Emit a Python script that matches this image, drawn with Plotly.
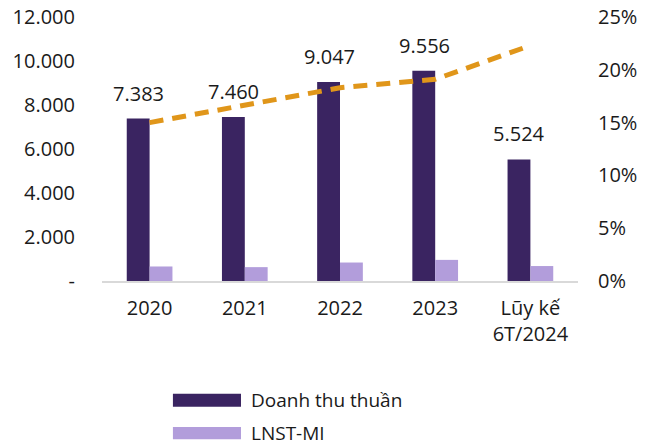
import plotly.graph_objects as go

# Data
categories = ["2020", "2021", "2022", "2023", "Lũy kế<br>6T/2024"]
doanh_thu = [7383, 7460, 9047, 9556, 5524]
lnst_mi = [660, 630, 840, 960, 680]
ty_le = [0.150, 0.166, 0.183, 0.191, 0.223]

left_ticks = [0, 2000, 4000, 6000, 8000, 10000, 12000]
left_tick_text = ["-", "2.000", "4.000", "6.000", "8.000", "10.000", "12.000"]
right_ticks = [0, 0.05, 0.10, 0.15, 0.20, 0.25]

DARK = "#3a2461"
LIGHT = "#b29ddb"
ORANGE = "#e0961a"
FONT = "Open Sans"

fig = go.Figure()

fig.add_trace(go.Bar(x=categories, y=doanh_thu, name="Doanh thu thuần",
                     marker=dict(color=DARK, line=dict(width=0))))
fig.add_trace(go.Bar(x=categories, y=lnst_mi, name="LNST-MI",
                     marker=dict(color=LIGHT, line=dict(width=0))))
fig.add_trace(go.Scatter(x=categories, y=ty_le, yaxis="y2", mode="lines",
                         line=dict(color=ORANGE, width=5, dash="14px,9px"),
                         showlegend=False, hoverinfo="skip"))

# value labels above the revenue bars
# (category index for x: numeric-looking names would be read as numbers)
for i, v in enumerate(doanh_thu):
    fig.add_annotation(x=i, y=v, text=f"{v:,.0f}".replace(",", "."),
                       showarrow=False, xshift=-11, yshift=10, yanchor="bottom",
                       font=dict(size=20, color="#1a1a1a"))

# hand-made legend with wide swatches
legend_items = [("Doanh thu thuần", DARK, -0.427, -0.476),
                ("LNST-MI", LIGHT, -0.553, -0.599)]
for label, color, y0, y1 in legend_items:
    fig.add_shape(type="rect", xref="paper", yref="paper",
                  x0=0.149, x1=0.292, y0=y1, y1=y0,
                  fillcolor=color, line=dict(width=0))
    fig.add_annotation(xref="paper", yref="paper", x=0.309, y=(y0 + y1) / 2,
                       text=label, showarrow=False, xanchor="left", yanchor="middle",
                       font=dict(size=19, color="#1a1a1a"))

# the page body adds an 8px offset, so the figure is 8px smaller on each axis
fig.update_layout(
    width=637, height=435,
    margin=dict(l=94, r=67, t=9, b=162),
    paper_bgcolor="white", plot_bgcolor="white",
    font=dict(family=FONT, size=20, color="#1a1a1a"),
    barmode="group", bargap=0.52, bargroupgap=0,
    showlegend=False,
    xaxis=dict(type="category", range=[-0.5, len(categories) - 0.5], automargin=False,
               showline=True, linecolor="#d9d9d9", linewidth=2,
               ticks="", ticklabelstandoff=8, showgrid=False),
    yaxis=dict(range=[0, 12000], tickvals=left_ticks, ticktext=left_tick_text,
               automargin=False, ticklabeloverflow="allow",
               showgrid=False, zeroline=False, ticks="", ticklabelstandoff=26),
    yaxis2=dict(range=[0, 0.25], tickvals=right_ticks, tickformat=".0%",
                automargin=False, ticklabeloverflow="allow",
                overlaying="y", side="right", showgrid=False, zeroline=False,
                ticks="", ticklabelstandoff=19),
)

fig.write_html("out.html")
